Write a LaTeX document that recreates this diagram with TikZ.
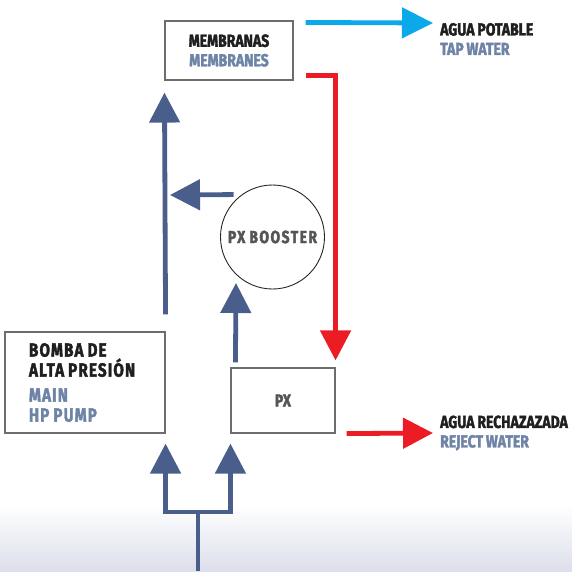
\documentclass[tikz,border=0pt]{standalone}
\usepackage{fontspec}
\setmainfont{Fira Sans}[FakeStretch=0.8, WordSpace=0.85, BoldFeatures={FakeBold=2}]
\usepackage{xcolor}
\usetikzlibrary{arrows.meta,positioning,shapes.geometric}

\definecolor{navy}{HTML}{4A5E8C}
\definecolor{steel}{HTML}{6E84A6}
\definecolor{rejred}{HTML}{EC1C24}
\definecolor{tapblue}{HTML}{0BA9E9}
\definecolor{inkgrey}{HTML}{555555}
\definecolor{boxgrey}{HTML}{6D6D6D}
\definecolor{fade}{HTML}{DCDFEC}

\begin{document}
\begin{tikzpicture}[
  x=1pt, y=-1pt,
  font=\bfseries\fontsize{17.5}{19.5}\selectfont,
  unit/.style={draw=boxgrey, line width=1.1pt, fill=white, align=center, inner sep=0pt, text=black!88},
  booster/.style={draw=black!85, circle, line width=0.9pt, minimum size=104pt, inner sep=0pt, text=inkgrey,
    font=\bfseries\fontsize{17.5}{19.5}\selectfont\addfontfeatures{LetterSpace=8}},
  note/.style={anchor=west, align=left, inner sep=0pt, text=black!88},
  feed/.style={draw=navy, line width=4.8pt, -{Triangle[length=30pt,width=30pt]}},
  pipe/.style={draw=navy, line width=4.8pt},
  reject/.style={draw=rejred, line width=4.8pt, -{Triangle[length=30pt,width=30pt]}},
  product/.style={draw=tapblue, line width=4.8pt, -{Triangle[length=31pt,width=30pt]}}
]
\useasboundingbox (0,0) rectangle (572,571);
\shade[top color=white, bottom color=fade] (0,505) rectangle (572,571);

\node[unit, minimum width=128pt, minimum height=59pt] (mem) at (229,50.5) {MEMBRANAS\\\textcolor{steel}{MEMBRANES}};
\node[booster] (pxb) at (272.5,237) {PX BOOSTER};
\node[unit, minimum width=104pt, minimum height=65pt, text=inkgrey] (px) at (283,400.5) {PX};
\node[unit, minimum width=160pt, minimum height=101pt, text width=112pt, align=flush left,
  font=\bfseries\fontsize{19}{20}\selectfont\addfontfeatures{LetterSpace=6}] (hpp) at (85,382.5)
  {BOMBA DE\\ALTA PRESIÓN\\[5pt]\textcolor{steel}{MAIN}\\\textcolor{steel}{HP PUMP}};

\node[note] (tap) at (440,39) {AGUA POTABLE\\\textcolor{steel}{TAP WATER}};
\node[note] (rej) at (440,433) {AGUA RECHAZAZADA\\\textcolor{steel}{REJECT WATER}};

\coordinate (merge) at (170,195);
\coordinate (boost) at (236,283);
\coordinate (inlet) at (198,571);
\coordinate (split) at (198,512);

\draw[product] ([xshift=12pt,yshift=-2pt]mem.north east) -- ([xshift=-7pt,yshift=16pt]tap.west);
\draw[reject] ([xshift=12pt,yshift=5pt]mem.south east) -| ([yshift=7pt]px.north east);
\draw[reject] ([xshift=11pt]px.south east) -- ([xshift=-7pt]rej.west);
\draw[feed] ([yshift=17pt]hpp.north east) -- ([yshift=-12pt]mem.south west);
\draw[feed] ([xshift=-8pt]pxb.126) -- (merge);
\draw[feed] ([xshift=5pt,yshift=5pt]px.north west) -- (boost);
\draw[pipe] (inlet) -- (split);
\draw[feed] (split) -| ([yshift=-10pt]hpp.south east);
\draw[feed] (split) -| ([yshift=-10pt]px.south west);
\end{tikzpicture}
\end{document}
